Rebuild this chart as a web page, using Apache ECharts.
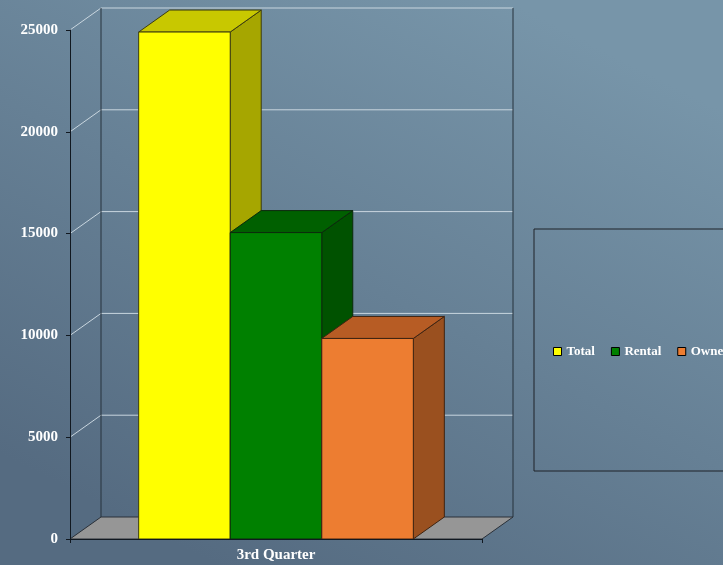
<!DOCTYPE html>
<html>
<head>
<meta charset="utf-8">
<script src="https://cdn.jsdelivr.net/npm/echarts@6/dist/echarts.min.js"></script>
<style>html,body{margin:0;padding:0;}#c{width:723px;height:565px;}</style>
</head>
<body>
<div id="c"></div>
<script>
const categories = ['3rd Quarter'];
const seriesNames = ['Total', 'Rental', 'Owner'];
const totalValues = [24900];
const rentalValues = [15050];
const ownerValues = [9850];
const yTicks = [0, 5000, 10000, 15000, 20000, 25000];

const FONT = '"Liberation Serif", "Times New Roman", serif';
const DX = 31, DY = -22;
const palette = [
  { front: '#ffff00', top: '#c8c800', side: '#a6a600', stroke: '#3c3c10' },
  { front: '#008000', top: '#006000', side: '#005200', stroke: '#0c2a0c' },
  { front: '#ed7d31', top: '#b75c24', side: '#9a501f', stroke: '#3e2412' }
];

function barRender(idx) {
  return function (params, api) {
    const cat = api.value(0), v = api.value(1);
    const base = api.coord([cat, 0]);
    const top = api.coord([cat, v]);
    const bw = api.size([1, 0])[0];
    const w = bw * 2 / 3 / 3;
    const x0 = base[0] - bw / 3 + idx * w;
    const x1 = x0 + w;
    const c = palette[idx];
    const st = { stroke: c.stroke, lineWidth: 1 };
    return {
      type: 'group',
      children: [
        { type: 'polygon', shape: { points: [[x1, top[1]], [x1 + DX, top[1] + DY], [x1 + DX, base[1] + DY], [x1, base[1]]] },
          style: Object.assign({ fill: c.side }, st) },
        { type: 'polygon', shape: { points: [[x0, top[1]], [x0 + DX, top[1] + DY], [x1 + DX, top[1] + DY], [x1, top[1]]] },
          style: Object.assign({ fill: c.top }, st) },
        { type: 'rect', shape: { x: x0, y: top[1], width: w, height: base[1] - top[1] },
          style: Object.assign({ fill: c.front }, st) }
      ]
    };
  };
}

function frameRender(params, api) {
  const base = api.coord([0, 0]);
  const bw = api.size([1, 0])[0];
  const L = base[0] - bw / 2, R = base[0] + bw / 2;
  const by = base[1];
  const children = [];
  children.push({ type: 'polygon', shape: { points: [[L, by], [L + DX, by + DY], [R + DX, by + DY], [R, by]] },
    style: { fill: '#969696', stroke: '#2a3038', lineWidth: 1 } });
  yTicks.forEach(function (t) {
    if (t === 0) return;
    const y = api.coord([0, t])[1];
    children.push({ type: 'polyline', shape: { points: [[L, y], [L + DX, y + DY], [R + DX, y + DY]] },
      style: { stroke: '#c9d6df', lineWidth: 1, fill: null } });
  });
  const ytop = api.coord([0, yTicks[yTicks.length - 1]])[1];
  children.push({ type: 'line', shape: { x1: L + DX, y1: ytop + DY, x2: L + DX, y2: by + DY },
    style: { stroke: '#26323c', lineWidth: 1 } });
  children.push({ type: 'line', shape: { x1: R + DX, y1: ytop + DY, x2: R + DX, y2: by + DY },
    style: { stroke: '#26323c', lineWidth: 1 } });
  return { type: 'group', children: children };
}

const chart = echarts.init(document.getElementById('c'), null, { renderer: 'canvas' });
const valueSets = [totalValues, rentalValues, ownerValues];
const series = [{
  type: 'custom', name: '__frame', silent: true, clip: false, z: 1,
  data: [[0, 0]], renderItem: frameRender, tooltip: { show: false }
}];
seriesNames.forEach(function (n, i) {
  series.push({
    type: 'custom', name: n, clip: false, z: 2 + i,
    itemStyle: { color: palette[i].front },
    data: valueSets[i].map(function (v, k) { return [k, v]; }),
    encode: { x: 0, y: 1 },
    renderItem: barRender(i)
  });
});

chart.setOption({
  animation: false,
  backgroundColor: { type: 'linear', x: 0.7, y: 0, x2: 0.3, y2: 1,
    colorStops: [{ offset: 0, color: '#7795a9' }, { offset: 1, color: '#556b81' }] },
  grid: { left: 70, right: 241, top: 30, bottom: 26 },
  legend: {
    data: seriesNames, left: 534, top: 229, width: 260,
    padding: [116, 40, 113, 19], itemGap: 16,
    borderColor: '#1e2328', borderWidth: 1,
    icon: 'rect', itemWidth: 8, itemHeight: 8,
    itemStyle: { borderColor: '#000', borderWidth: 1 },
    textStyle: { color: '#ffffff', fontFamily: FONT, fontWeight: 'bold', fontSize: 13 }
  },
  xAxis: {
    type: 'category', data: categories, z: 10,
    axisLine: { lineStyle: { color: '#111820', width: 1 } },
    axisTick: { show: true, length: 4, lineStyle: { color: '#111820' } },
    axisLabel: { color: '#ffffff', fontFamily: FONT, fontWeight: 'bold', fontSize: 15, margin: 9 },
    splitLine: { show: false }
  },
  yAxis: {
    type: 'value', min: 0, max: 25000, interval: 5000, z: 10,
    axisLine: { show: true, lineStyle: { color: '#111820', width: 1 } },
    axisTick: { show: true, length: 4, lineStyle: { color: '#111820' } },
    axisLabel: { color: '#ffffff', fontFamily: FONT, fontWeight: 'bold', fontSize: 15, margin: 12,
      formatter: function (v) { return String(v); } },
    splitLine: { show: false }
  },
  series: series
});
</script>
</body>
</html>
